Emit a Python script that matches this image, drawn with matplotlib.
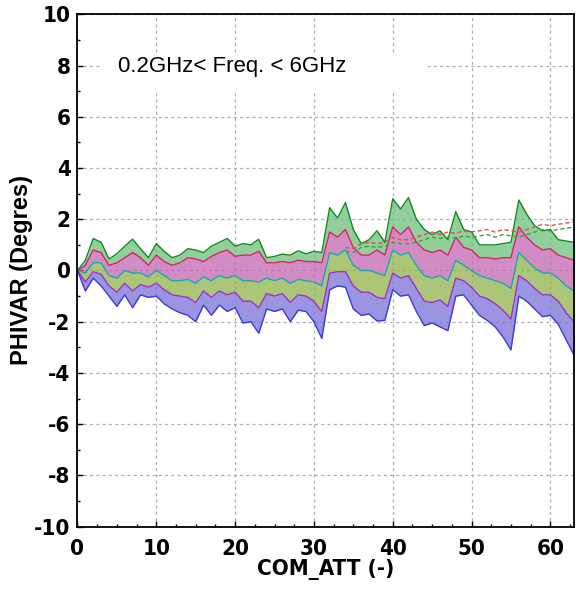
import matplotlib
matplotlib.use("Agg")
import matplotlib.pyplot as plt
from matplotlib import font_manager
from matplotlib.patches import Rectangle
from matplotlib.ticker import MultipleLocator
import numpy as np

# ---------------------------------------------------------------------------
# Data (phase variation vs attenuation state)
# ---------------------------------------------------------------------------
com_att = list(range(64))

# upper envelope of the trace bundle
upper = [0.0, 0.4, 1.25, 1.1, 0.45, 0.65, 0.95, 1.22, 0.85, 0.5,
         1.05, 0.75, 0.5, 0.6, 0.85, 0.8, 0.7, 0.95, 1.1, 1.25,
         0.95, 1.05, 1.0, 1.22, 0.5, 0.55, 0.64, 0.6, 0.77, 0.65,
         0.75, 0.7, 2.45, 2.05, 2.65, 1.6, 1.05, 1.2, 1.55, 1.1,
         2.8, 2.4, 2.85, 2.0, 1.6, 1.4, 1.55, 1.2, 2.3, 1.6,
         1.5, 1.0, 1.0, 1.0, 1.05, 1.1, 2.75, 2.2, 1.75, 1.55,
         1.6, 1.2, 1.15, 1.1]

# upper quartile of the bundle
upper_mid = [0.0, 0.2, 0.8, 0.7, 0.2, 0.3, 0.5, 0.7, 0.5, 0.2,
             0.6, 0.35, 0.2, 0.3, 0.5, 0.45, 0.35, 0.55, 0.7, 0.8,
             0.55, 0.6, 0.6, 0.75, 0.3, 0.3, 0.35, 0.3, 0.4, 0.35,
             0.35, 0.3, 1.5, 1.3, 1.6, 0.9, 0.6, 0.6, 0.8, 0.6,
             1.7, 1.4, 1.7, 1.1, 0.8, 0.7, 0.8, 0.6, 1.3, 0.9,
             0.8, 0.5, 0.5, 0.45, 0.5, 0.5, 1.7, 1.3, 1.0, 0.8,
             0.85, 0.6, 0.5, 0.4]

# centre of the bundle
centre = [0.0, -0.1, 0.3, 0.3, -0.2, -0.3, 0.0, -0.1, -0.1, -0.25,
          0.0, -0.2, -0.4, -0.4, -0.35, -0.5, -0.25, -0.4, -0.2, -0.3,
          -0.2, -0.4, -0.4, -0.45, -0.3, -0.4, -0.3, -0.5, -0.35, -0.4,
          -0.45, -0.6, 0.7, 0.6, 0.8, 0.2, 0.0, 0.0, -0.1, -0.2,
          0.8, 0.6, 0.7, 0.2, -0.2, -0.3, -0.2, -0.4, 0.4, 0.2,
          0.0, -0.2, -0.3, -0.4, -0.5, -0.7, 0.7, 0.4, 0.1, -0.1,
          -0.1, -0.3, -0.6, -0.8]

# lower quartile of the bundle
lower_mid = [0.0, -0.45, -0.05, -0.15, -0.6, -0.85, -0.5, -0.8, -0.55, -0.65,
             -0.5, -0.75, -0.95, -1.0, -1.05, -1.25, -0.8, -1.05, -0.8, -0.95,
             -0.85, -1.2, -1.2, -1.45, -0.9, -1.0, -0.9, -1.25, -0.95, -1.0,
             -1.2, -1.6, -0.1, -0.05, -0.05, -0.6, -0.85, -0.85, -1.05, -1.1,
             -0.1, -0.3, -0.2, -0.7, -1.2, -1.25, -1.15, -1.4, -0.3, -0.4,
             -0.65, -1.0, -1.1, -1.3, -1.55, -1.9, -0.2, -0.4, -0.7, -0.95,
             -0.95, -1.2, -1.65, -2.0]

# lower envelope of the trace bundle
lower = [0.0, -0.8, -0.3, -0.6, -1.0, -1.4, -0.95, -1.45, -0.95, -1.05,
         -1.0, -1.3, -1.5, -1.65, -1.75, -2.0, -1.35, -1.75, -1.35, -1.6,
         -1.45, -2.05, -2.0, -2.45, -1.5, -1.6, -1.5, -2.0, -1.55, -1.6,
         -2.0, -2.65, -0.75, -0.6, -0.65, -1.5, -1.75, -1.7, -1.97, -1.95,
         -0.75, -1.0, -0.95, -1.6, -2.15, -2.05, -2.2, -2.35, -1.0, -0.95,
         -1.35, -1.75, -1.95, -2.2, -2.6, -3.1, -1.0, -1.2, -1.5, -1.8,
         -1.75, -2.1, -2.7, -3.3]

# dashed traces sitting above the bundle at high attenuation
dashed_att = list(range(34, 64))
dashed_top = [0.9, 0.85, 1.05, 1.1, 1.05, 1.1, 1.3, 1.2, 1.2, 1.3,
              1.4, 1.5, 1.4, 1.5, 1.45, 1.55, 1.5, 1.55, 1.6, 1.5,
              1.6, 1.55, 1.5, 1.6, 1.7, 1.8, 1.75, 1.8, 1.85, 1.9]
dashed_low = [0.75, 0.7, 0.9, 0.95, 0.9, 0.95, 1.1, 1.05, 1.05, 1.1,
              1.2, 1.3, 1.25, 1.3, 1.25, 1.35, 1.3, 1.35, 1.4, 1.3,
              1.4, 1.35, 1.3, 1.4, 1.5, 1.6, 1.55, 1.6, 1.65, 1.7]

x_ticks = [0, 10, 20, 30, 40, 50, 60]
y_ticks = [-10, -8, -6, -4, -2, 0, 2, 4, 6, 8, 10]
annotation = "0.2GHz< Freq. < 6GHz"

plt.rcParams["axes.unicode_minus"] = False

# condensed bold face for tick labels, if the system has one
cond = font_manager.FontProperties(family="DejaVu Sans", weight="bold",
                                   stretch="condensed", size=16)
for name in ["Liberation Sans Narrow", "Arial Narrow"]:
    try:
        font_manager.findfont(font_manager.FontProperties(family=name),
                              fallback_to_default=False)
        cond = font_manager.FontProperties(family=name, weight="bold", size=17)
        break
    except ValueError:
        pass

# ---------------------------------------------------------------------------
# Figure
# ---------------------------------------------------------------------------
fig = plt.figure(figsize=(5.76, 5.95), dpi=100)
ax = fig.add_axes([0.1345, 0.1148, 0.862, 0.8612])

x = np.array(com_att)
bands = [upper, upper_mid, centre, lower_mid, lower]
fill_cols = ["#6cbf7a", "#c266b0", "#8fb34a", "#7a70d8"]
for (top, bot), c in zip(zip(bands[:-1], bands[1:]), fill_cols):
    ax.fill_between(x, top, bot, color=c, alpha=0.75, lw=0)

line_cols = ["#118a22", "#d8206a", "#18a8b0", "#a030c8", "#3a3ae0"]
for vals, c in zip(bands, line_cols):
    ax.plot(x, vals, color=c, lw=1.0)

ax.plot(dashed_att, dashed_top, color="#e05050", lw=1.0, ls=(0, (3, 2)))
ax.plot(dashed_att, dashed_low, color="#40a040", lw=1.0, ls=(0, (3, 2)))

# annotation on a white patch that hides the grid behind it
ax.add_patch(Rectangle((2.85, 7.0), 41.6, 1.45, fc="white", ec="none", zorder=3))
ax.text(5.1, 7.95, annotation, fontsize=16, family="Liberation Sans",
        va="center", ha="left", zorder=4)

ax.set_xlim(0, 63)
ax.set_ylim(-10, 10)
ax.set_xticks(x_ticks)
ax.set_yticks(y_ticks)
ax.xaxis.set_minor_locator(MultipleLocator(2.5))
ax.yaxis.set_minor_locator(MultipleLocator(1))
ax.grid(True, which="major", color="#b0b0b0", ls=(0, (2.5, 2.5)), lw=0.9)
ax.set_axisbelow(True)

ax.tick_params(which="both", direction="in", length=4, width=1)
ax.tick_params(which="minor", length=2.5)
ax.tick_params(axis="x", pad=9)
ax.tick_params(axis="y", pad=5)
for lbl in ax.get_xticklabels() + ax.get_yticklabels():
    lbl.set_fontproperties(cond)

ax.set_xlabel("COM_ATT (-)", fontproperties=cond, labelpad=0)
ax.set_ylabel("PHIVAR (Degres)", family="Liberation Sans", fontweight="bold",
              fontsize=17, labelpad=1)

for s in ax.spines.values():
    s.set_linewidth(1.3)

fig.savefig("out.png", dpi=100)
